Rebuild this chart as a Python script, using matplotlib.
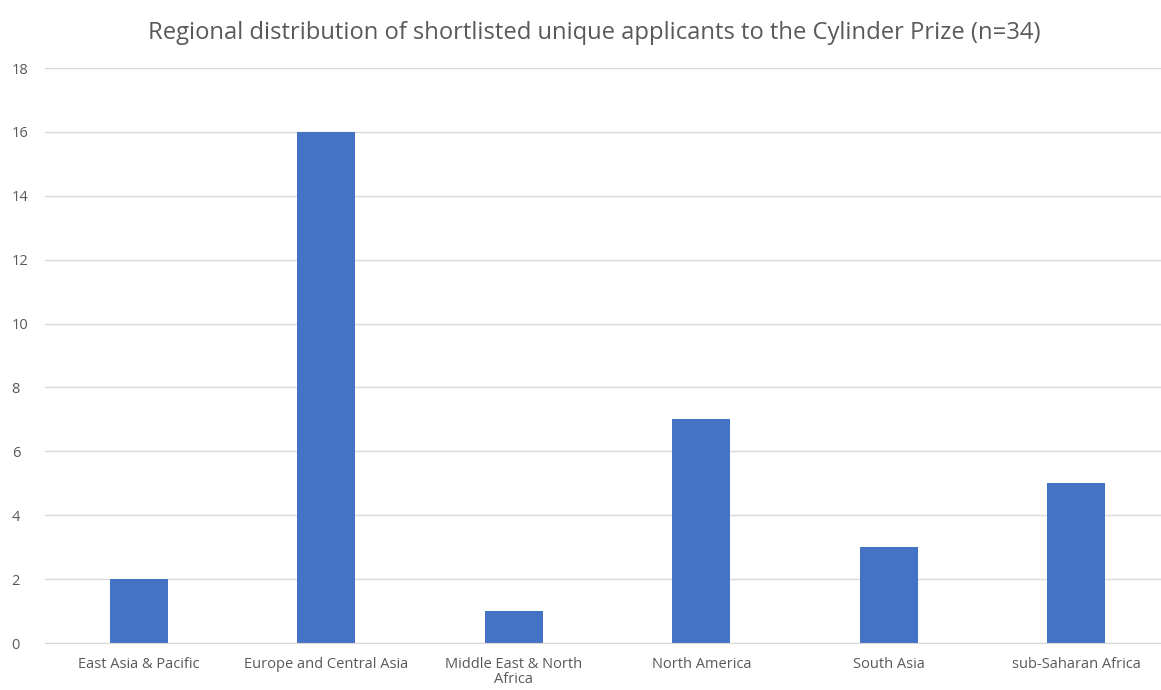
import matplotlib
matplotlib.use("Agg")
import matplotlib.pyplot as plt

# 入围申请者的地区分布
regions = [
    "East Asia & Pacific",
    "Europe and Central Asia",
    "Middle East & North\nAfrica",
    "North America",
    "South Asia",
    "sub-Saharan Africa",
]
counts = [2, 16, 1, 7, 3, 5]

BAR = "#4472C4"
TXT = "#595959"
GRID = "#D9D9D9"

plt.rcParams["font.family"] = ["Open Sans", "DejaVu Sans"]

fig = plt.figure(figsize=(11.61, 6.90), dpi=100)
ax = fig.add_axes([0.0388, 0.0681, 0.969, 0.8333])

x = range(len(regions))
ax.bar(x, counts, width=0.31, color=BAR, zorder=2)

ax.set_xlim(-0.5, len(regions) - 0.5)
ax.set_ylim(0, 18)
ax.set_yticks(range(0, 19, 2))
ax.set_xticks(list(x))
ax.set_xticklabels(regions, linespacing=1.0)

ax.grid(axis="y", color=GRID, lw=1.0, zorder=0)
for s in ["top", "right", "left"]:
    ax.spines[s].set_visible(False)
ax.spines["bottom"].set_color(GRID)
ax.tick_params(axis="both", length=0, colors=TXT, labelsize=10.5)
ax.tick_params(axis="y", pad=24)
ax.tick_params(axis="x", pad=10)
for lbl in ax.get_yticklabels():
    lbl.set_horizontalalignment("left")

fig.text(0.512, 0.952, "Regional distribution of shortlisted unique applicants to the Cylinder Prize (n=34)",
         ha="center", va="center", fontsize=17.1, color=TXT)

fig.savefig("out.png", dpi=100)
